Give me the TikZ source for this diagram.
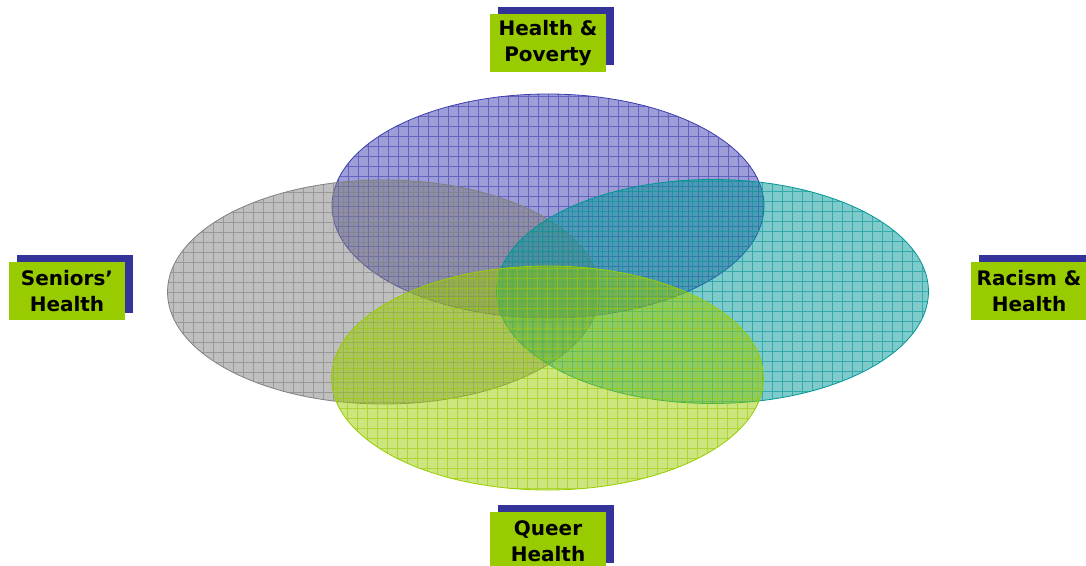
\documentclass[tikz,border=0pt]{standalone}
\usepackage{fontspec}
\setmainfont{DejaVu Sans}
\usetikzlibrary{shapes.geometric,shadows}
\definecolor{vblue}{RGB}{60,60,175}
\definecolor{vgray}{RGB}{128,128,128}
\definecolor{vteal}{RGB}{0,150,150}
\definecolor{vgreen}{RGB}{153,204,0}
\definecolor{lblgreen}{RGB}{153,204,0}
\definecolor{lblblue}{RGB}{51,51,153}
\begin{document}
\begin{tikzpicture}[x=1pt,y=-1pt,
  vennset/.style={ellipse, minimum width=432pt, minimum height=224pt, inner sep=0pt,
    draw=#1, line width=0.8pt, fill=#1, fill opacity=0.5,
    path picture={\draw[#1, line width=0.7pt, draw opacity=0.6, step=10pt]
      (path picture bounding box.south west) grid (path picture bounding box.north east);}},
  lblbox/.style={fill=lblgreen, minimum width=116pt, minimum height=58pt, inner sep=0pt,
    align=center, font=\bfseries\fontsize{20}{26}\selectfont, text=black,
    drop shadow={shadow xshift=8pt, shadow yshift=7.5pt, fill=lblblue, opacity=1}}]
\useasboundingbox (0,0) rectangle (1086,565);
\node[vennset=vblue] (poverty) at (548,206) {};
\node[vennset=vgray] (seniors) at (383.5,292) {};
\node[vennset=vteal] (racism) at (712.5,291.5) {};
\node[vennset=vgreen] (queer) at (547.5,378) {};
\node[lblbox] (lpoverty) at (548,43) {Health \&\\Poverty};
\node[lblbox] (lseniors) at (67,291) {Seniors’\\Health};
\node[lblbox] (lracism) at (1029,291) {Racism \&\\Health};
\node[lblbox] (lqueer) at (548,541) {Queer\\Health};
\end{tikzpicture}
\end{document}
